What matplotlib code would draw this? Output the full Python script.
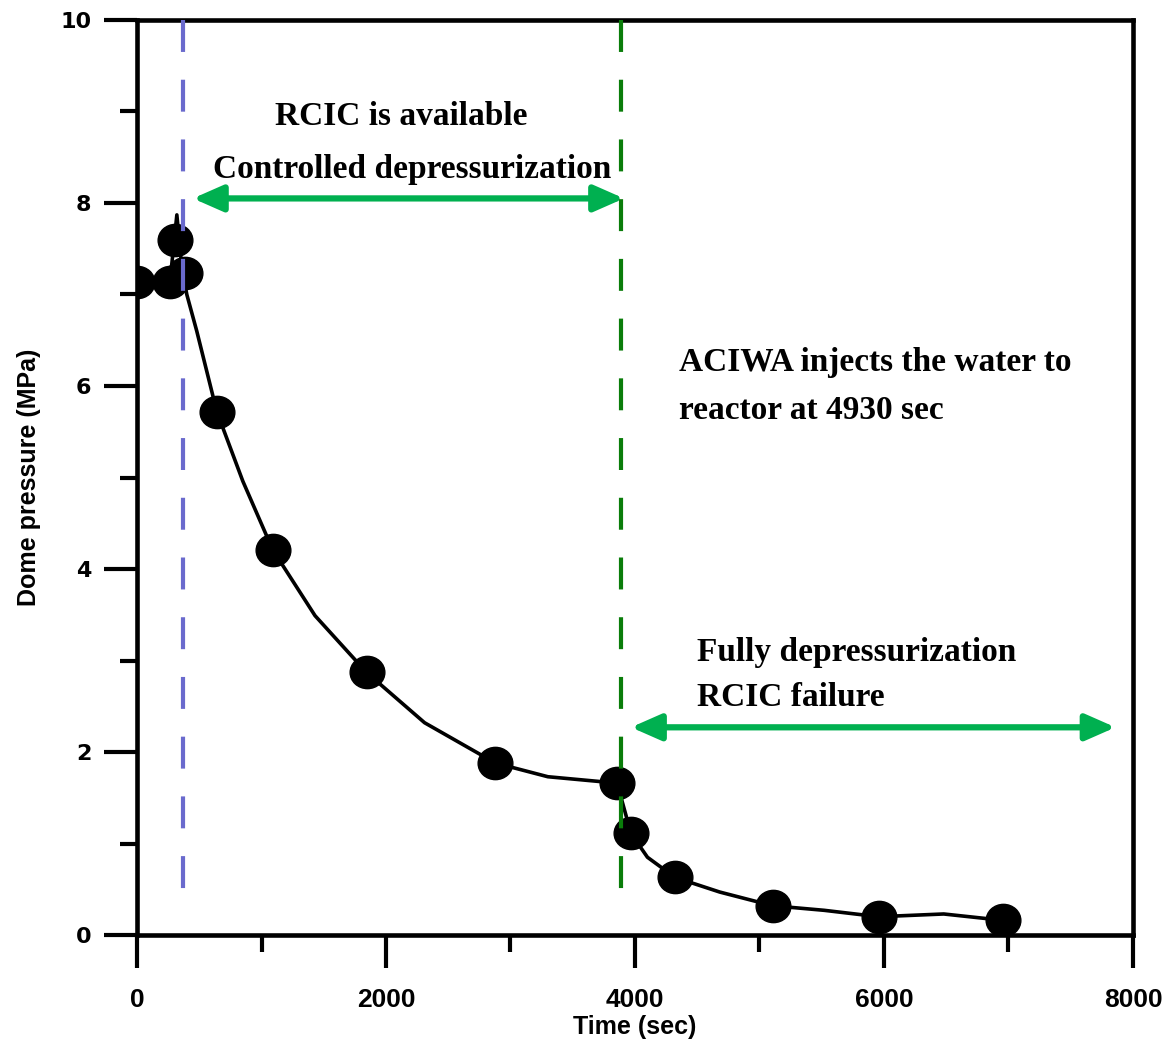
import numpy as np
import matplotlib

matplotlib.use("Agg")
import matplotlib.pyplot as plt
from matplotlib.path import Path
from matplotlib.transforms import Affine2D
from matplotlib.ticker import MultipleLocator

# simulation curve (time in sec, dome pressure in MPa)
curve_time = [0, 265, 320, 360, 400, 480, 641, 850, 1090, 1430, 1844, 2310,
              2878, 3300, 3856, 3968, 4100, 4321, 4680, 5106, 5520, 5956,
              6480, 6958]
curve_pres = [7.14, 7.14, 7.87, 7.30, 7.00, 6.60, 5.72, 4.96, 4.21, 3.49,
              2.87, 2.32, 1.88, 1.73, 1.66, 1.11, 0.85, 0.63, 0.47, 0.32,
              0.27, 0.20, 0.23, 0.16]

# marker points
mark_time = [0, 265, 305, 385, 641, 1090, 1844, 2878, 3856, 3968, 4321,
             5106, 5956, 6958]
mark_pres = [7.14, 7.14, 7.60, 7.24, 5.72, 4.21, 2.87, 1.88, 1.66, 1.11,
             0.63, 0.32, 0.20, 0.16]

rcic_start = 369
aciwa_line = 3888
arrow1 = (449, 3912, 8.05)
arrow2 = (3968, 7860, 2.27)

plt.rcParams["lines.scale_dashes"] = False

fig = plt.figure(figsize=(11.72, 10.41), dpi=100)
ax = fig.add_axes([0.1169, 0.1018, 0.8498, 0.879])

ax.plot(curve_time, curve_pres, color="black", lw=2.6, zorder=3)

ell = Path.unit_circle().transformed(Affine2D().scale(1.0, 0.93))
ax.plot(mark_time, mark_pres, linestyle="none", marker=ell, markersize=25,
        color="black", zorder=4)

# dashed markers of the two phases, drawn top-down so dashes start at the top
ax.plot([rcic_start, rcic_start], [10, 0.33], color="#6a6acd", lw=3,
        dashes=[23, 20], zorder=5)
ax.plot([aciwa_line, aciwa_line], [10, 0.33], color="#0a7d0a", lw=3,
        dashes=[23, 20], zorder=5)

for x0, x1, y in [arrow1, arrow2]:
    ax.annotate("", xy=(x1, y), xytext=(x0, y),
                arrowprops=dict(arrowstyle="<|-|>,head_length=0.5,head_width=0.22",
                                color="#00b050", lw=4.5,
                                mutation_scale=36, shrinkA=0, shrinkB=0))

tfont = dict(family="Liberation Serif", fontweight="bold", fontsize=24)
ax.text(2124, 8.855, "RCIC is available", ha="center", va="baseline", **tfont)
ax.text(2212, 8.277, "Controlled depressurization", ha="center", va="baseline", **tfont)
ax.text(4353, 6.161, "ACIWA injects the water to", ha="left", va="baseline", **tfont)
ax.text(4353, 5.638, "reactor at 4930 sec", ha="left", va="baseline", **tfont)
ax.text(4497, 2.999, "Fully depressurization", ha="left", va="baseline", **tfont)
ax.text(4497, 2.508, "RCIC failure", ha="left", va="baseline", **tfont)

ax.set_xlim(0, 8000)
ax.set_ylim(0, 10)
ax.xaxis.set_major_locator(MultipleLocator(2000))
ax.xaxis.set_minor_locator(MultipleLocator(1000))
ax.yaxis.set_major_locator(MultipleLocator(2))
ax.yaxis.set_minor_locator(MultipleLocator(1))

for s in ax.spines.values():
    s.set_linewidth(3.3)

ax.tick_params(which="major", direction="out", length=24, width=3)
ax.tick_params(which="minor", direction="out", length=12, width=3)
ax.tick_params(axis="x", which="major", pad=14)
ax.tick_params(axis="y", which="major", pad=9)

for lab in ax.get_xticklabels():
    lab.set_family("Liberation Sans")
    lab.set_fontweight("bold")
    lab.set_fontsize(19)
for lab in ax.get_yticklabels():
    lab.set_family("DejaVu Sans")
    lab.set_fontweight("bold")
    lab.set_fontsize(16)

ax.set_xlabel("Time (sec)", family="Liberation Sans", fontweight="bold",
              fontsize=18, labelpad=2)
ax.set_ylabel("Dome pressure (MPa)", family="Liberation Sans",
              fontweight="bold", fontsize=18, labelpad=14)

fig.savefig("out.png", dpi=100)
